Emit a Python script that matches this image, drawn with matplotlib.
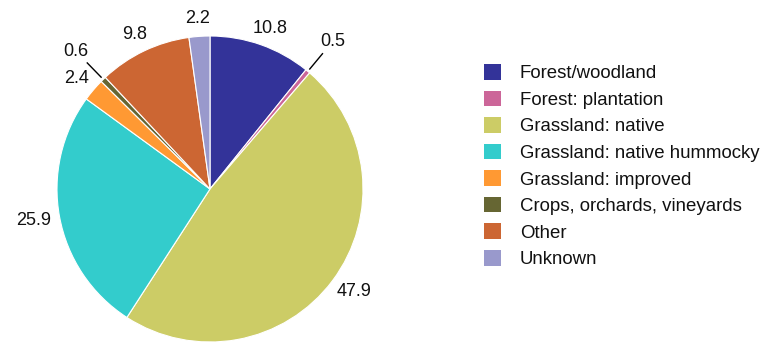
import numpy as np
import matplotlib
matplotlib.use("Agg")
import matplotlib.pyplot as plt
from matplotlib.patches import Patch

plt.rcParams['font.family'] = ['Liberation Sans', 'DejaVu Sans']

categories = ["Forest/woodland", "Forest: plantation", "Grassland: native",
              "Grassland: native hummocky", "Grassland: improved",
              "Crops, orchards, vineyards", "Other", "Unknown"]
values = [10.8, 0.5, 47.9, 25.9, 2.4, 0.6, 9.8, 2.2]
labels = ["10.8", "0.5", "47.9", "25.9", "2.4", "0.6", "9.8", "2.2"]
colors = ["#333399", "#cc6699", "#cccc66", "#33cccc", "#ff9933",
          "#666633", "#cc6633", "#9999cc"]

W, H = 761, 345
FS = 13
LFS = 13.4
fig = plt.figure(figsize=(W / 100, H / 100), dpi=100)
ax = fig.add_axes([0, 0, 1, 1])
cx, cy, R = 210, 189, 153

wedges, _ = ax.pie(values, colors=colors, startangle=90, counterclock=False,
                   radius=1.0, center=(0, 0),
                   wedgeprops=dict(edgecolor='white', linewidth=0.8))
ax.set_xlim((0 - cx) / R, (W - cx) / R)
ax.set_ylim((cy - H) / R, (cy - 0) / R)
ax.set_aspect('equal')
ax.axis('off')

renderer = fig.canvas.get_renderer()
total = sum(values)
cum = 0.0
for v, lab in zip(values, labels):
    mid = (cum + v / 2) / total * 2 * np.pi
    cum += v
    dx, dy = np.sin(mid), np.cos(mid)
    if v < 1.0:
        ax.plot([dx * 1.02, dx * 1.15], [dy * 1.02, dy * 1.15], color='black', lw=1)
        ax.text(dx * 1.255, dy * 1.255, lab, ha='center', va='center',
                fontsize=FS, color='#111111')
    else:
        t = ax.text(0, 0, lab, ha='center', va='center', fontsize=FS, color='#111111')
        bb = t.get_window_extent(renderer)
        w, h = bb.width / R, bb.height / R
        t.set_position((dx * 1.06 + dx * w / 2, dy * 1.06 + dy * h / 2))

handles = [Patch(facecolor=c, edgecolor='none') for c in colors]
leg = ax.legend(handles, categories, loc='upper left',
                bbox_to_anchor=(484 / W, 1 - 64 / H), bbox_transform=fig.transFigure,
                frameon=False, fontsize=LFS, handlelength=0.91, handleheight=0.91,
                handletextpad=1.02, labelspacing=0.45, borderaxespad=0, borderpad=0)
for t in leg.get_texts():
    t.set_color('#111111')

fig.savefig("out.png", dpi=100)
